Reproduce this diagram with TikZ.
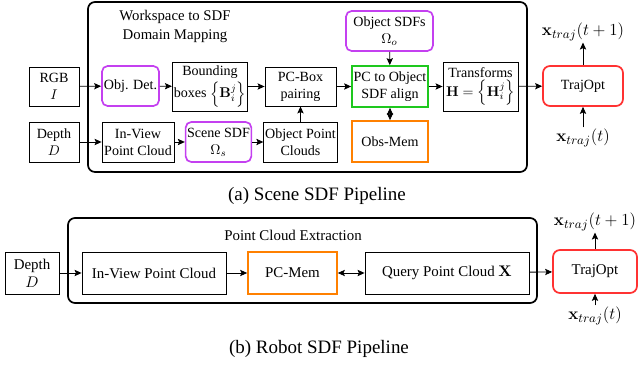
\documentclass[tikz,border=0pt]{standalone}
\usepackage{amsmath}
\usepackage[no-math]{fontspec}
\setmainfont{Liberation Serif}
\usetikzlibrary{arrows.meta}
\definecolor{sdfpurple}{RGB}{196,64,240}
\definecolor{aligngreen}{RGB}{30,200,30}
\definecolor{memorange}{RGB}{255,128,0}
\definecolor{optred}{RGB}{255,50,50}
\tikzset{
	align=center,
	font=\fontsize{10}{12}\selectfont,
	blk/.style={
		draw,
		rectangle,
		line width=0.6pt,
		inner sep=1pt,
	},
	sdf/.style={
		draw=sdfpurple,
		rectangle,
		rounded corners=4pt,
		line width=1.2pt,
		inner sep=1pt,
	},
	fuse/.style={
		draw=aligngreen,
		rectangle,
		line width=1.2pt,
		inner sep=1pt,
	},
	mem/.style={
		draw=memorange,
		rectangle,
		line width=1.2pt,
		inner sep=1pt,
	},
	opt/.style={
		draw=optred,
		rectangle,
		rounded corners=5pt,
		line width=1.2pt,
		inner sep=1pt,
	},
	panel/.style={
		line width=1.2pt,
		rounded corners=5pt,
	},
	flow/.style={
		line width=0.6pt,
		-{Stealth[length=5pt,width=4.5pt,inset=1pt]}
	},
	both/.style={
		line width=0.6pt,
		{Stealth[length=5pt,width=4.5pt,inset=1pt]}-{Stealth[length=5pt,width=4.5pt,inset=1pt]}
	},
	lbl/.style={
		inner sep=1pt,
		font=\fontsize{13}{15}\selectfont,
	},
}

\begin{document}
\begin{tikzpicture}[
		x=0.025cm, y=-0.025cm,
		subcap/.style={font=\fontsize{13.5}{15}\selectfont},
		robot/.style={font=\fontsize{10.6}{12.6}\selectfont},
	]
		\useasboundingbox (0,0) rectangle (639,367);

		\draw[panel] 				(88,2) rectangle (527,172);
		\node[font=\fontsize{10.5}{12.5}\selectfont] (titleA) at (175,26.5) {Workspace to SDF\\[1pt]Domain Mapping};

		\node[blk, minimum width=1.25cm, minimum height=0.975cm]	(rgb) at (54,86.5) {RGB\\$I$};
		\node[sdf, minimum width=1.425cm, minimum height=1cm]		(objdet) at (130.5,86) {Obj. Det.};
		\node[blk, minimum width=1.8cm, minimum height=1.225cm]		(bbox) at (210,86.5) {Bounding\\[1pt]boxes $\left\{\mathbf{B}_i^j\right\}$};
		\node[blk, minimum width=1.775cm, minimum height=0.975cm]	(pcbox) at (300.5,86.5) {PC-Box\\pairing};

		\node[blk, minimum width=1.25cm, minimum height=1cm]		(depth) at (54,142) {Depth\\$D$};
		\node[blk, minimum width=1.8cm, minimum height=1cm]			(inview) at (138,142) {In-View\\Point Cloud};
		\node[sdf, minimum width=1.625cm, minimum height=1cm]		(scenesdf) at (218.5,142) {Scene SDF\\$\Omega_s$};
		\node[blk, minimum width=1.775cm, minimum height=1cm]		(objpc) at (300.5,142) {Object Point\\Clouds};

		\node[sdf, minimum width=2.175cm, minimum height=1cm]		(objsdf) at (389.5,31) {Object SDFs\\$\Omega_o$};
		\node[fuse, minimum width=1.9cm, minimum height=1.025cm]	(pcalign) at (390,86.5) {PC to Object\\SDF align};
		\node[mem, minimum width=1.9cm, minimum height=1.025cm]		(obsmem) at (390,141.5) {Obs-Mem};
		\node[blk, minimum width=1.875cm, minimum height=1.225cm]	(transf) at (480.5,86.5) {Transforms\\[1pt]$\mathbf{H}=\left\{\mathbf{H}_i^j\right\}$};

		\node[opt, minimum width=2cm, minimum height=1cm]			(trajA) at (583,86) {TrajOpt};
		\node[lbl] 					(nextA) at (583,32) {$\mathbf{x}_{traj}(t+1)$};
		\node[lbl] 					(nowA) at (583,138) {$\mathbf{x}_{traj}(t)$};

		\draw[flow] 				(rgb) -- (objdet);
		\draw[flow] 				(objdet) -- (bbox);
		\draw[flow] 				(bbox) -- (pcbox);
		\draw[flow] 				(pcbox) -- (pcalign);
		\draw[flow] 				(objsdf) -- (pcalign);
		\draw[both] 				(pcalign) -- (obsmem);
		\draw[flow] 				(pcalign) -- (transf);
		\draw[flow] 				(transf) -- (trajA);
		\draw[flow] 				(depth) -- (inview);
		\draw[flow] 				(inview) -- (scenesdf);
		\draw[flow] 				(scenesdf) -- (objpc);
		\draw[flow] 				(objpc) -- (pcbox);
		\draw[flow] 				(trajA) -- (nextA);
		\draw[flow] 				(nowA) -- (trajA);

		\node[subcap] 				(capA) at (317,196) {(a) Scene SDF Pipeline};

%*********

		\draw[panel] 				(68,218) rectangle (537,303);
		\node[robot] 				(titleB) at (293,235) {Point Cloud Extraction};

		\node[blk, robot, minimum width=1.35cm, minimum height=1.05cm]		(depthB) at (32,273) {Depth\\$D$};
		\node[blk, robot, minimum width=3.6cm, minimum height=1.05cm]		(inviewB) at (154,273) {In-View Point Cloud};
		\node[mem, robot, minimum width=2.225cm, minimum height=1.05cm]	(pcmem) at (292.5,273) {PC-Mem};
		\node[blk, robot, minimum width=4.1cm, minimum height=1.05cm]		(query) at (447,273) {Query Point Cloud $\mathbf{X}$};

		\node[opt, robot, minimum width=2.1cm, minimum height=1.075cm]		(trajB) at (595,271.5) {TrajOpt};
		\node[lbl] 					(nextB) at (595,222) {$\mathbf{x}_{traj}(t+1)$};
		\node[lbl] 					(nowB) at (595,316) {$\mathbf{x}_{traj}(t)$};

		\draw[flow] 				(depthB) -- (inviewB);
		\draw[flow] 				(inviewB) -- (pcmem);
		\draw[both] 				(pcmem) -- (query);
		\draw[flow] 				(query) -- (trajB);
		\draw[flow] 				(trajB) -- (nextB);
		\draw[flow] 				(nowB) -- (trajB);

		\node[subcap] 				(capB) at (319,349) {(b) Robot SDF Pipeline};

	\end{tikzpicture}
\end{document}
